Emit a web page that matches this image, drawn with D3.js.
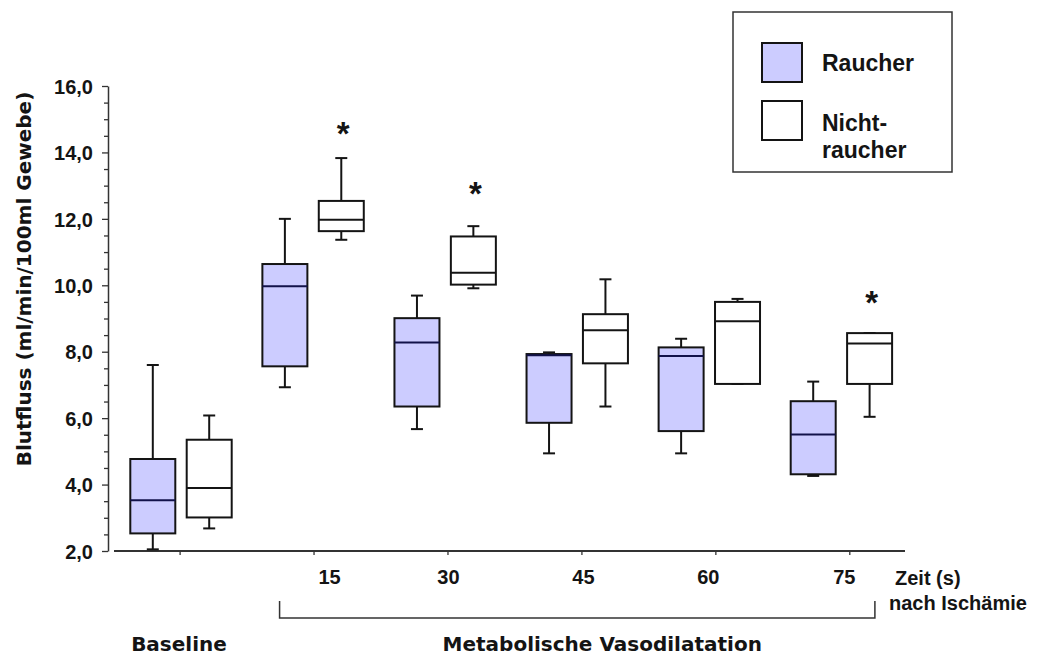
<!DOCTYPE html>
<html>
<head>
<meta charset="utf-8">
<script src="https://cdn.jsdelivr.net/npm/d3@7"></script>
<style>
  html, body { margin: 0; padding: 0; background: #fff; }
  svg { display: block; }
</style>
</head>
<body>
<script>
// ---- Data ----
const groups = ["Baseline", "15", "30", "45", "60", "75"];
const timeTicks = [0, 15, 30, 45, 60, 75];
const yTickValues = [2, 4, 6, 8, 10, 12, 14, 16];

const raucherMin    = [2.05, 6.93, 5.67, 4.94, 4.94, 4.26];
const raucherQ1     = [2.53, 7.56, 6.35, 5.86, 5.61, 4.31];
const raucherMedian = [3.53, 9.97, 8.28, 7.89, 7.87, 5.51];
const raucherQ3     = [4.77, 10.64, 9.01, 7.93, 8.13, 6.51];
const raucherMax    = [7.60, 12.00, 9.69, 7.98, 8.39, 7.10];

const nichtMin    = [2.68, 11.37, 9.91, 6.35, 7.03, 6.04];
const nichtQ1     = [3.01, 11.63, 10.02, 7.65, 7.03, 7.03];
const nichtMedian = [3.90, 11.97, 10.38, 8.65, 8.92, 8.25];
const nichtQ3     = [5.35, 12.54, 11.47, 9.13, 9.50, 8.56];
const nichtMax    = [6.08, 13.83, 11.78, 10.18, 9.59, 8.56];

const sigMarks = [null, 14.8, 13.0, null, null, 9.7];

const seriesNames = ["Raucher", "Nicht-raucher"];

// ---- Build series ----
function buildSeries(mn, q1, md, q3, mx) {
  return groups.map((g, i) => ({ group: g, min: mn[i], q1: q1[i], median: md[i], q3: q3[i], max: mx[i] }));
}
const series = [
  { key: "R", fill: "#ccccff", offset: -28.2, data: buildSeries(raucherMin, raucherQ1, raucherMedian, raucherQ3, raucherMax) },
  { key: "N", fill: "#ffffff", offset: 28.2, data: buildSeries(nichtMin, nichtQ1, nichtMedian, nichtQ3, nichtMax) }
];

// ---- Layout ----
const W = 1039, H = 655;
const svg = d3.select("body").append("svg").attr("width", W).attr("height", H);

const y = d3.scaleLinear().domain([2, 16]).range([551, 86]);
const x = d3.scalePoint().domain(groups).range([181, 841.4]);
const t = d3.scaleLinear().domain([0, 75]).range([179.6, 849.3]);
const boxW = 45, capW = 12;
const ink = "#141414";
const arial = "'Liberation Sans', Arial, sans-serif";
const dejavu = "'DejaVu Sans', Verdana, sans-serif";

// Y axis
const yAxisX = 108;
const yAxis = d3.axisLeft(y).tickValues(d3.range(2, 16.01, 0.5)).tickSize(0).tickFormat("");
const gy = svg.append("g").attr("transform", `translate(${yAxisX},0)`).call(yAxis);
gy.select(".domain").attr("stroke", "#333").attr("stroke-width", 1.5);
gy.selectAll(".tick line").remove();
gy.selectAll(".tick").append("line")
  .attr("x1", d => (Math.abs(d - Math.round(d / 2) * 2) < 1e-6 ? -6 : -4))
  .attr("x2", 0)
  .attr("stroke", "#333").attr("stroke-width", 1.3);
gy.selectAll(".tick").filter(d => Math.abs(d - Math.round(d / 2) * 2) < 1e-6)
  .append("text")
  .attr("x", -15).attr("dy", "0.36em")
  .attr("text-anchor", "end")
  .attr("fill", ink)
  .style("font-family", arial).style("font-weight", "bold").style("font-size", "20px")
  .text(d => d3.format(".1f")(d).replace(".", ","));

// X axis line
svg.append("line").attr("x1", 114).attr("x2", 905).attr("y1", 551).attr("y2", 551)
  .attr("stroke", "#333").attr("stroke-width", 1.8);
const xAxis = d3.axisBottom(t).tickValues(timeTicks).tickSize(4).tickFormat("");
const gx = svg.append("g").attr("transform", "translate(0,551)").call(xAxis);
gx.select(".domain").remove();
gx.selectAll(".tick line").attr("stroke", "#333").attr("stroke-width", 1.3);

// Time labels
const labelShift = [0, 16, 1, 2, -7, -5];
svg.append("g").selectAll("text").data(timeTicks.filter(d => d > 0)).join("text")
  .attr("x", d => t(d) + labelShift[timeTicks.indexOf(d)])
  .attr("y", 584)
  .attr("text-anchor", "middle")
  .attr("fill", ink)
  .style("font-family", arial).style("font-weight", "bold").style("font-size", "20px")
  .text(d => d);

svg.append("text").attr("x", 895).attr("y", 585).attr("fill", ink)
  .style("font-family", arial).style("font-weight", "bold").style("font-size", "20px")
  .text("Zeit (s)");
svg.append("text").attr("x", 889).attr("y", 610).attr("fill", ink)
  .style("font-family", arial).style("font-weight", "bold").style("font-size", "20px")
  .text("nach Ischämie");

// Bracket
const bl = x("15") - 33.5, br = x("75") + 33.5;
svg.append("path")
  .attr("d", `M${bl},601 V618 H${br} V601`)
  .attr("fill", "none").attr("stroke", "#333").attr("stroke-width", 1.5);

// Bottom labels
svg.append("text").attr("x", x("Baseline") - 2).attr("y", 651).attr("text-anchor", "middle")
  .attr("fill", ink)
  .style("font-family", dejavu).style("font-weight", "bold").style("font-size", "20px")
  .text("Baseline");
svg.append("text").attr("x", (bl + br) / 2 + 25).attr("y", 651).attr("text-anchor", "middle")
  .attr("fill", ink)
  .style("font-family", dejavu).style("font-weight", "bold").style("font-size", "20px")
  .text("Metabolische Vasodilatation");

// Y title
svg.append("text")
  .attr("transform", `translate(31,279) rotate(-90)`)
  .attr("text-anchor", "middle")
  .attr("fill", ink)
  .style("font-family", dejavu).style("font-weight", "bold").style("font-size", "20px")
  .text("Blutfluss (ml/min/100ml Gewebe)");

// Boxes
series.forEach(s => {
  const g = svg.append("g");
  const bx = d => x(d.group) + s.offset;
  // whiskers
  g.selectAll(".wh-up").data(s.data).join("line")
    .attr("x1", bx).attr("x2", bx).attr("y1", d => y(d.q3)).attr("y2", d => y(d.max))
    .attr("stroke", ink).attr("stroke-width", 2);
  g.selectAll(".wh-lo").data(s.data).join("line")
    .attr("x1", bx).attr("x2", bx).attr("y1", d => y(d.q1)).attr("y2", d => y(d.min))
    .attr("stroke", ink).attr("stroke-width", 2);
  g.selectAll(".cap-up").data(s.data).join("line")
    .attr("x1", d => bx(d) - capW / 2).attr("x2", d => bx(d) + capW / 2)
    .attr("y1", d => y(d.max)).attr("y2", d => y(d.max))
    .attr("stroke", ink).attr("stroke-width", 2);
  g.selectAll(".cap-lo").data(s.data).join("line")
    .attr("x1", d => bx(d) - capW / 2).attr("x2", d => bx(d) + capW / 2)
    .attr("y1", d => y(d.min)).attr("y2", d => y(d.min))
    .attr("stroke", ink).attr("stroke-width", 2);
  // box
  g.selectAll("rect").data(s.data).join("rect")
    .attr("x", d => bx(d) - boxW / 2).attr("width", boxW)
    .attr("y", d => y(d.q3)).attr("height", d => y(d.q1) - y(d.q3))
    .attr("fill", s.fill).attr("stroke", ink).attr("stroke-width", 2);
  // median
  g.selectAll(".med").data(s.data).join("line")
    .attr("x1", d => bx(d) - boxW / 2).attr("x2", d => bx(d) + boxW / 2)
    .attr("y1", d => y(d.median)).attr("y2", d => y(d.median))
    .attr("stroke", s.key === "R" ? "#12124a" : ink).attr("stroke-width", 2);
});

// Significance asterisks (over Nichtraucher boxes)
svg.append("g").selectAll("text")
  .data(groups.map((g, i) => ({ group: g, v: sigMarks[i] })).filter(d => d.v != null))
  .join("text")
  .attr("x", d => x(d.group) + series[1].offset + 2)
  .attr("y", d => y(d.v) + 19)
  .attr("text-anchor", "middle")
  .attr("fill", ink)
  .style("font-family", arial).style("font-weight", "bold").style("font-size", "33px")
  .text("*");

// Legend
const lg = svg.append("g");
lg.append("rect").attr("x", 733).attr("y", 12).attr("width", 219).attr("height", 160)
  .attr("fill", "#fff").attr("stroke", "#333").attr("stroke-width", 1.5);
const legendItems = [
  { fill: series[0].fill, lines: ["Raucher"], sy: 43, ty: [71] },
  { fill: series[1].fill, lines: ["Nicht-", "raucher"], sy: 101, ty: [131, 158] }
];
legendItems.forEach(it => {
  lg.append("rect").attr("x", 762).attr("y", it.sy).attr("width", 40).attr("height", 39)
    .attr("fill", it.fill).attr("stroke", ink).attr("stroke-width", 2);
  it.lines.forEach((ln, k) => {
    lg.append("text").attr("x", 822).attr("y", it.ty[k]).attr("fill", ink)
      .style("font-family", arial).style("font-weight", "bold").style("font-size", "23px")
      .text(ln);
  });
});
</script>
</body>
</html>
